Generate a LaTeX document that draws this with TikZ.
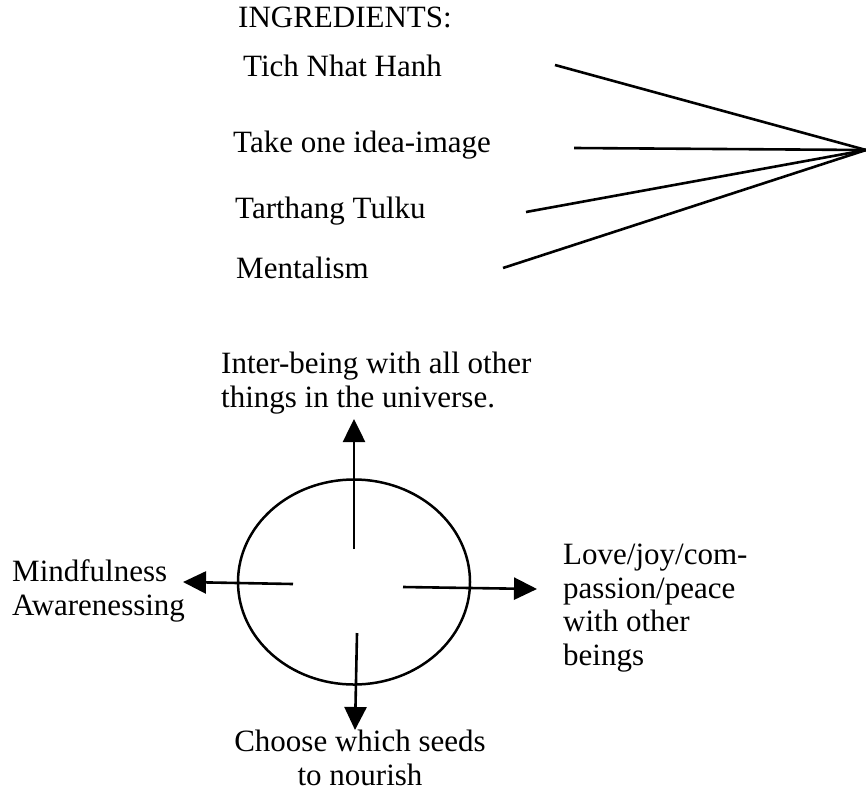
\documentclass[tikz,border=0pt]{standalone}
\usepackage{fontspec}
\setmainfont{Liberation Serif}
\usetikzlibrary{arrows.meta,shapes.geometric}
\begin{document}
\begin{tikzpicture}[x=1pt,y=-1pt,
  lbl/.style={inner sep=0pt, anchor=base west, font=\fontsize{31}{33.5}\selectfont, align=left},
  clbl/.style={inner sep=0pt, anchor=base, font=\fontsize{31}{33.5}\selectfont, align=center},
  conn/.style={line width=2.6pt},
  arr/.style={line width=2.6pt, -{Triangle[length=23pt,width=22pt]}},
  ring/.style={draw, ellipse, line width=2.5pt, inner sep=0pt, minimum width=232pt, minimum height=205pt}
]
\useasboundingbox (0,0) rectangle (866,792);
\fill[white] (0,0) rectangle (866,792);

% ingredients
\node[lbl] (ing) at (238,28) {INGREDIENTS:};
\node[lbl] (tich) at (243,76) {Tich Nhat Hanh};
\node[lbl] (take) at (233,152) {Take one idea-image};
\node[lbl] (tart) at (235,218) {Tarthang Tulku};
\node[lbl] (ment) at (236,278) {Mentalism};

\coordinate (hub) at (866,150);
\coordinate (a1) at (555,65);
\coordinate (a2) at (574,148);
\coordinate (a3) at (526,212);
\coordinate (a4) at (503,268);
\draw[conn] (a1) -- (hub);
\draw[conn] (a2) -- (hub);
\draw[conn] (a3) -- (hub);
\draw[conn] (a4) -- (hub);

% circle diagram
\node[ring] (circ) at (354,582) {};

\node[lbl] (inter) at (221,407) {Inter-being with all other\\things in the universe.};
\node[lbl] (mind) at (12,615) {Mindfulness\\Awarenessing};
\node[lbl] (love) at (563,665) {Love/joy/com-\\passion/peace\\with other\\beings};
\node[clbl] (choose) at (360,785) {Choose which seeds\\to nourish};

\coordinate (upS) at (354,549);
\coordinate (upT) at (354,419);
\coordinate (lS) at (293,584);
\coordinate (lT) at (183,582);
\coordinate (rS) at (403,587);
\coordinate (rT) at (537,589);
\coordinate (dS) at (357,633);
\coordinate (dT) at (355,730);
\draw[arr] (upS) -- (upT);
\draw[arr] (lS) -- (lT);
\draw[arr] (rS) -- (rT);
\draw[arr] (dS) -- (dT);
\end{tikzpicture}
\end{document}
